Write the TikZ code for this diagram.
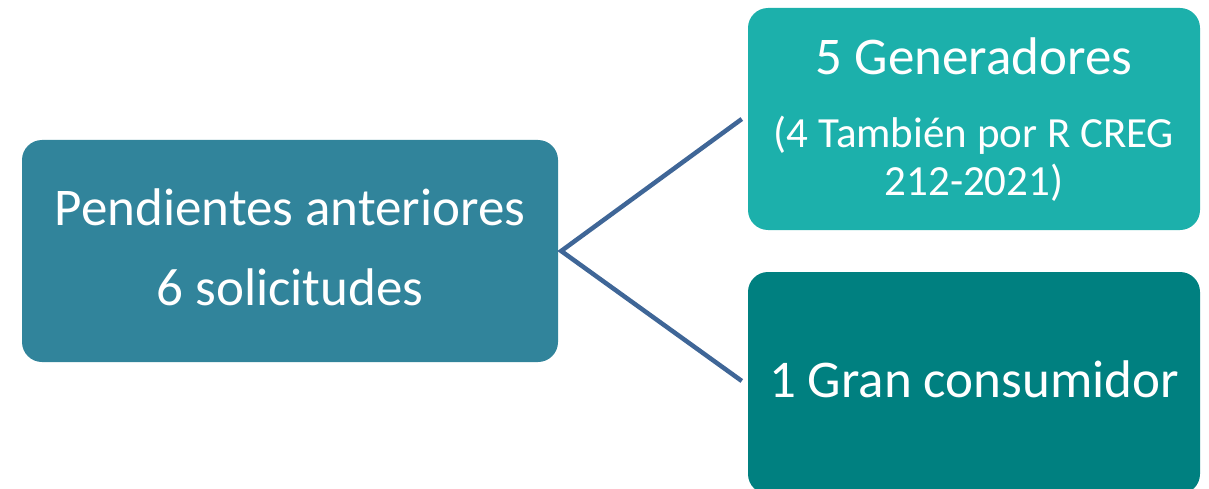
\documentclass[tikz,border=0pt]{standalone}
\usepackage{fontspec}
\setmainfont{Carlito}
\usetikzlibrary{calc}
\definecolor{cLeft}{HTML}{31849B}
\definecolor{cTop}{HTML}{1CB0AB}
\definecolor{cBot}{HTML}{008080}
\definecolor{cLine}{HTML}{3F6697}
\begin{document}
\begin{tikzpicture}[x=1pt,y=-1pt,
  boxstyle/.style={rounded corners=20pt, inner sep=0pt, minimum height=222pt},
  bigtxt/.style={text=white, inner sep=0pt, anchor=base, font=\fontsize{53}{62}\selectfont},
  smalltxt/.style={text=white, inner sep=0pt, anchor=base, font=\fontsize{43}{50}\selectfont},
  link/.style={draw=cLine, line width=4.5pt}]
\useasboundingbox (0,0) rectangle (1209,489);
\clip (0,0) rectangle (1209,489);
\node[boxstyle, fill=cLeft, minimum width=536pt] (L) at (290,251) {};
\node[boxstyle, fill=cTop, minimum width=452pt] (T) at (974,119) {};
\node[boxstyle, fill=cBot, minimum width=452pt] (B) at (974,383) {};
\node[bigtxt] (l1) at (290,225) {Pendientes anteriores};
\node[bigtxt] (l2) at (290,305) {6 solicitudes};
\node[bigtxt] (t1) at (974,75) {5 Generadores};
\node[smalltxt] (t2) at (974,148) {(4 También por R CREG};
\node[smalltxt] (t3) at (974,195) {212-2021)};
\node[bigtxt] (b1) at (974,397) {1 Gran consumidor};
\coordinate (J) at ($(L.east)+(3,0)$);
\draw[link] ($(T.west)+(-6,0)$) -- (J) -- ($(B.west)+(-6,-2)$);
\end{tikzpicture}
\end{document}
